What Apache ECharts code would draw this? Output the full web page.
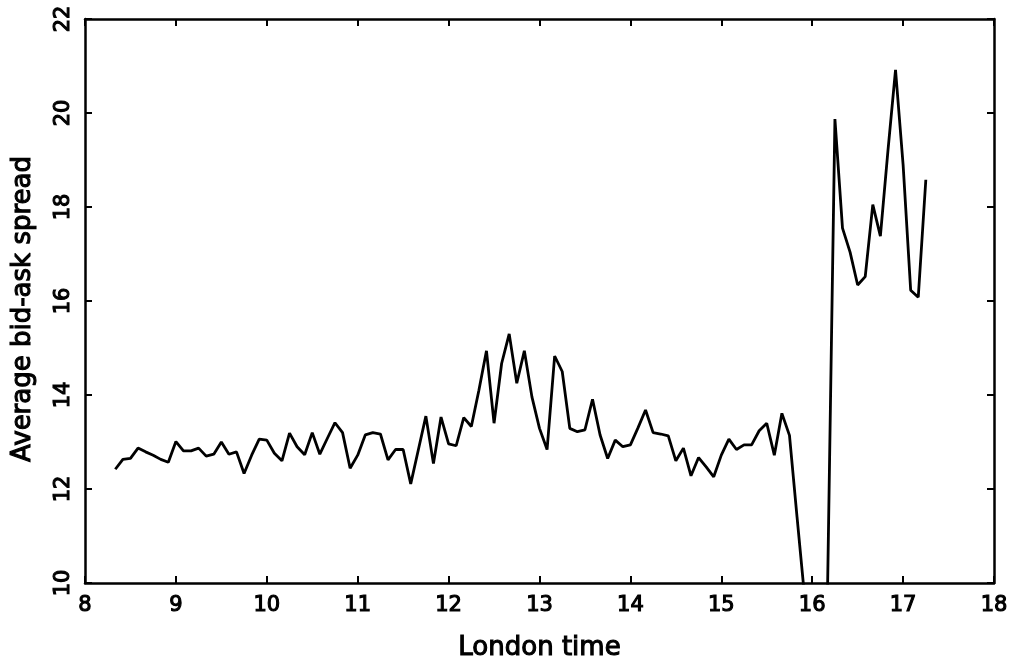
<!DOCTYPE html>
<html>
<head>
<meta charset="utf-8">
<script src="https://cdn.jsdelivr.net/npm/echarts@6/dist/echarts.min.js"></script>
<style>html,body{margin:0;padding:0;background:#fff}#c{width:1011px;height:663px}</style>
</head>
<body>
<div id="c"></div>
<script>
// 5-minute observations starting 8:20 London time
const startMinutes = 20; // minutes after 8:00
const stepMinutes = 5;
const spreadValues = [
  12.42,12.63,12.65,12.87,12.79,12.72,12.63,12.57,13.01,12.81,
  12.81,12.87,12.70,12.74,13.00,12.74,12.79,12.33,12.72,13.06,
  13.04,12.76,12.60,13.19,12.90,12.73,13.20,12.74,13.08,13.41,
  13.20,12.44,12.72,13.15,13.20,13.17,12.62,12.84,12.84,12.11,
  12.83,13.55,12.54,13.53,12.96,12.92,13.52,13.33,14.10,14.94,
  13.40,14.67,15.30,14.25,14.94,13.96,13.29,12.84,14.83,14.50,
  13.29,13.22,13.26,13.91,13.15,12.65,13.04,12.90,12.94,13.30,
  13.68,13.20,13.17,13.13,12.60,12.87,12.28,12.67,12.47,12.26,
  12.72,13.06,12.84,12.94,12.94,13.24,13.40,12.72,13.61,13.14,
  11.40,9.70,9.00,9.00,9.60,19.87,17.55,17.04,16.34,16.52,
  18.05,17.38,19.20,20.92,18.90,16.23,16.08,18.58
];
const xTicks = [8,9,10,11,12,13,14,15,16,17,18];
const yTicks = [10,12,14,16,18,20,22];
const xTitle = 'London time';
const yTitle = 'Average bid-ask spread';

const seriesData = spreadValues.map((v, i) => [8 + (startMinutes + stepMinutes * i) / 60, v]);

const FONT = '"DejaVu Sans",sans-serif';
const chart = echarts.init(document.getElementById('c'), null, {renderer: 'canvas'});
const axisLine = {show: true, onZero: false, lineStyle: {color: '#000', width: 2.5}};
const tick = {show: true, inside: true, length: 7, lineStyle: {color: '#000', width: 2}};
const labelStyle = {color: '#000', fontSize: 21, fontFamily: FONT, textBorderColor: '#000', textBorderWidth: 1.1};
const nameStyle = {color: '#000', fontSize: 26, fontFamily: FONT, textBorderColor: '#000', textBorderWidth: 1.1};
chart.setOption({
  animation: false,
  backgroundColor: '#fff',
  grid: {left: 85, right: 17, top: 19, bottom: 80, show: false, containLabel: false, outerBoundsMode: 'none'},
  xAxis: [{
    type: 'value', min: xTicks[0], max: xTicks[xTicks.length - 1], interval: 1,
    axisLine, axisTick: tick, splitLine: {show: false},
    axisLabel: Object.assign({margin: 12}, labelStyle),
    name: xTitle, nameLocation: 'middle', nameGap: 52,
    nameTextStyle: nameStyle
  }, {
    type: 'value', position: 'top', min: xTicks[0], max: xTicks[xTicks.length - 1], interval: 1,
    axisLine, axisTick: tick, axisLabel: {show: false}, splitLine: {show: false}
  }],
  yAxis: [{
    type: 'value', min: yTicks[0], max: yTicks[yTicks.length - 1], interval: 2,
    axisLine, axisTick: tick, splitLine: {show: false},
    axisLabel: Object.assign({rotate: 90, margin: 11}, labelStyle),
    name: yTitle, nameLocation: 'middle', nameGap: 49,
    nameTextStyle: Object.assign({padding: [0, 16, 0, 0]}, nameStyle)
  }, {
    type: 'value', position: 'right', min: yTicks[0], max: yTicks[yTicks.length - 1], interval: 2,
    axisLine, axisTick: tick, axisLabel: {show: false}, splitLine: {show: false}
  }],
  series: [{
    type: 'line', data: seriesData, showSymbol: false, clip: true,
    lineStyle: {color: '#000', width: 2.8}, itemStyle: {color: '#000'}
  }]
});
</script>
</body>
</html>
